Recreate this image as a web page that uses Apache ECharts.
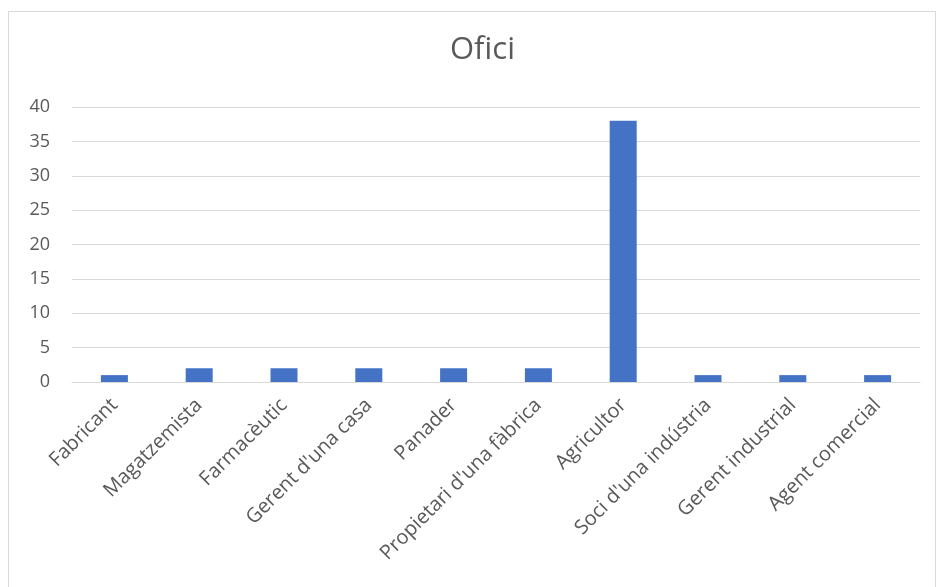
<!DOCTYPE html>
<html>
<head>
<meta charset="utf-8">
<script src="https://cdn.jsdelivr.net/npm/echarts@6/dist/echarts.min.js"></script>
<style>
html,body{margin:0;padding:0;background:#fff;}
#chart{width:938px;height:587px;}
</style>
</head>
<body>
<div id="chart"></div>
<script>
const categories = ["Fabricant","Magatzemista","Farmacèutic","Gerent d'una casa","Panader","Propietari d'una fàbrica","Agricultor","Soci d'una indústria","Gerent industrial","Agent comercial"];
const values = [1,2,2,2,2,2,38,1,1,1];
const titleText = "Ofici";

const chart = echarts.init(document.getElementById('chart'));
const font = "'Open Sans', 'Noto Sans', sans-serif";
chart.setOption({
  animation: false,
  backgroundColor: '#ffffff',
  graphic: [{
    type: 'rect',
    shape: {x: 8.5, y: 11.5, width: 927, height: 590},
    style: {fill: 'none', stroke: '#d9d9d9', lineWidth: 1},
    silent: true
  }],
  title: {
    text: titleText,
    left: 445,
    top: 30,
    textStyle: {fontFamily: font, fontSize: 31, fontWeight: 'normal', color: '#595959'}
  },
  grid: {left: 72, right: 18, top: 107, bottom: 205, containLabel: false},
  xAxis: {
    type: 'category',
    data: categories,
    axisLine: {lineStyle: {color: '#d9d9d9', width: 1}},
    axisTick: {show: false},
    axisLabel: {rotate: 45, margin: 20, fontFamily: font, fontSize: 20, color: '#595959', interval: 0}
  },
  yAxis: {
    type: 'value',
    min: 0, max: 40, interval: 5,
    axisLine: {show: false},
    axisTick: {show: false},
    splitLine: {lineStyle: {color: '#d9d9d9', width: 1}},
    axisLabel: {margin: 22, fontFamily: font, fontSize: 18, color: '#595959'}
  },
  series: [{
    type: 'bar',
    data: values,
    barWidth: 27,
    itemStyle: {color: '#4472c4'}
  }]
});
</script>
</body>
</html>
